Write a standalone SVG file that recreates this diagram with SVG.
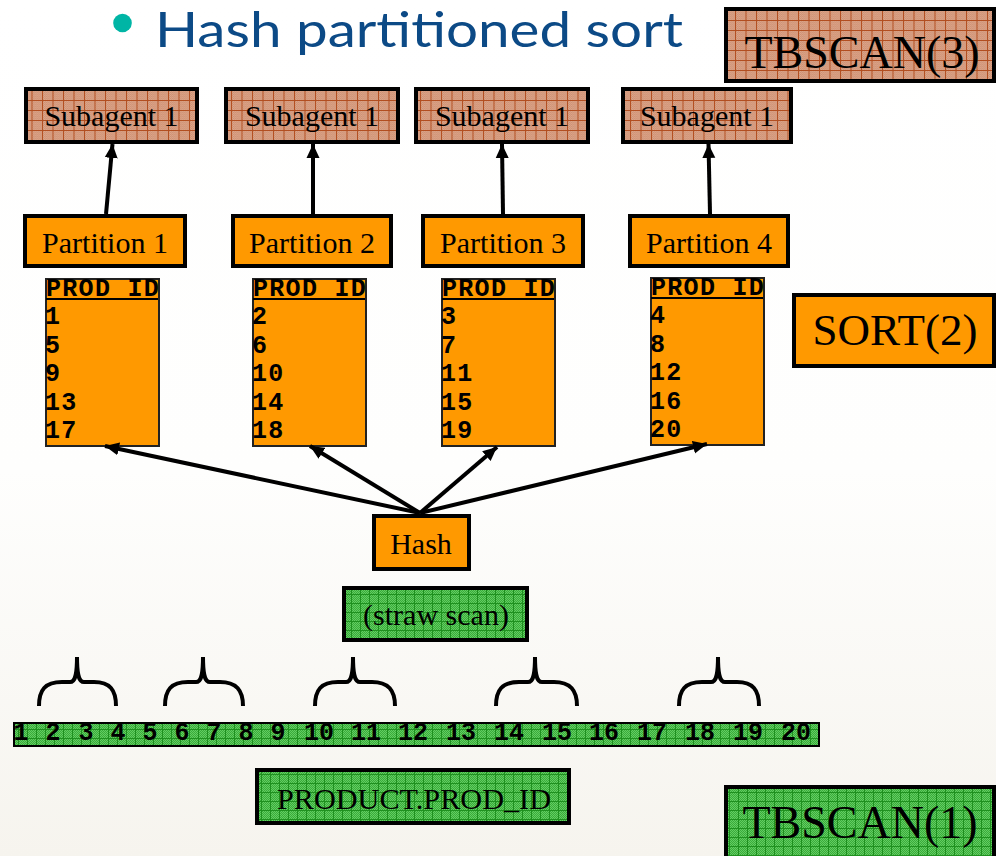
<svg xmlns="http://www.w3.org/2000/svg" width="996" height="856" viewBox="0 0 996 856">
  <defs>
    <linearGradient id="bg" x1="0" y1="0" x2="0" y2="1">
      <stop offset="0" stop-color="#ffffff"/>
      <stop offset="0.55" stop-color="#fefefd"/>
      <stop offset="1" stop-color="#f6f4ee"/>
    </linearGradient>
    <!-- fine texture for the hatched boxes -->
    <pattern id="dotsBrown" width="2" height="2" patternUnits="userSpaceOnUse">
      <rect width="2" height="2" fill="#dea98e"/>
      <rect width="1" height="1" fill="#cc8e70"/>
      <rect x="1" y="1" width="1" height="1" fill="#cc8e70"/>
    </pattern>
    <pattern id="gridBrown" width="10.5" height="10" patternUnits="userSpaceOnUse">
      <rect width="10.5" height="10" fill="url(#dotsBrown)"/>
      <path d="M0 0.5H10.5M0.5 0V10" stroke="#b24e20" stroke-width="1" fill="none"/>
    </pattern>
    <pattern id="dotsGreen" width="2" height="2" patternUnits="userSpaceOnUse">
      <rect width="2" height="2" fill="#62cd62"/>
      <rect width="1" height="1" fill="#3aab3a"/>
      <rect x="1" y="1" width="1" height="1" fill="#3aab3a"/>
    </pattern>
    <pattern id="gridGreen" width="9" height="9" patternUnits="userSpaceOnUse">
      <rect width="9" height="9" fill="url(#dotsGreen)"/>
      <path d="M0 0.5H9M0.5 0V9" stroke="#1f901f" stroke-width="1" fill="none"/>
    </pattern>
    <marker id="arrow" markerUnits="userSpaceOnUse" markerWidth="16" markerHeight="14" refX="14" refY="7" orient="auto">
      <path d="M0 0.5L14 7L0 13.5Z" fill="#000"/>
    </marker>
  </defs>
  <style>
    .serif { font-family: "Liberation Serif", "Times New Roman", serif; fill: #000; }
    .mono { font-family: "Liberation Mono", "Courier New", monospace; font-weight: bold; fill: #000; }
    .brown { fill: url(#gridBrown); stroke: #000; stroke-width: 4; }
    .green { fill: url(#gridGreen); stroke: #000; stroke-width: 4; }
    .orange { fill: #ff9900; stroke: #000; stroke-width: 4; }
    .table { fill: #ff9900; stroke: #222; stroke-width: 2; }
    .edge { stroke: #000; stroke-width: 4; fill: none; marker-end: url(#arrow); }
    .brace { stroke: #000; stroke-width: 4; fill: none; stroke-linecap: butt; }
    .cap { font-size: 30px; text-anchor: middle; }
    .big { font-size: 46px; text-anchor: middle; }
    .cell { font-size: 25px; letter-spacing: 1.3px; }
    .num { font-size: 25px; text-anchor: middle; }
  </style>

  <rect width="996" height="856" fill="url(#bg)"/>

  <!-- heading -->
  <g id="title">
    <circle cx="122.5" cy="23" r="9.3" fill="#00b5a5"/>
    <text x="155" y="47" font-family="Lato, 'Open Sans', sans-serif" font-size="48" fill="#0c4a86" textLength="528" lengthAdjust="spacingAndGlyphs">Hash partitioned sort</text>
  </g>

  <!-- operator labels -->
  <g id="tbscan3">
    <rect class="brown" x="726" y="9" width="268" height="72"/>
    <text class="serif big" x="862" y="68">TBSCAN(3)</text>
  </g>
  <g id="sort2">
    <rect class="orange" x="794" y="295" width="200" height="71"/>
    <text class="serif" x="895" y="345" font-size="45" text-anchor="middle">SORT(2)</text>
  </g>
  <g id="tbscan1">
    <rect class="green" x="726" y="787" width="268" height="71"/>
    <text class="serif big" x="860" y="838">TBSCAN(1)</text>
  </g>

  <!-- subagents -->
  <g id="subagent-1">
    <rect class="brown" x="26" y="89" width="171" height="53"/>
    <text class="serif cap" x="111.5" y="126">Subagent 1</text>
  </g>
  <g id="subagent-2">
    <rect class="brown" x="226" y="89" width="172" height="53"/>
    <text class="serif cap" x="312" y="126">Subagent 1</text>
  </g>
  <g id="subagent-3">
    <rect class="brown" x="416" y="89" width="172" height="53"/>
    <text class="serif cap" x="502" y="126">Subagent 1</text>
  </g>
  <g id="subagent-4">
    <rect class="brown" x="623" y="89" width="168" height="53"/>
    <text class="serif cap" x="707" y="126">Subagent 1</text>
  </g>

  <!-- partitions -->
  <g id="partition-1">
    <rect class="orange" x="25" y="216" width="160" height="50"/>
    <text class="serif cap" x="105" y="253" font-size="31">Partition 1</text>
  </g>
  <g id="partition-2">
    <rect class="orange" x="233" y="216" width="158" height="50"/>
    <text class="serif cap" x="312" y="253" font-size="31">Partition 2</text>
  </g>
  <g id="partition-3">
    <rect class="orange" x="423" y="216" width="160" height="50"/>
    <text class="serif cap" x="503" y="253" font-size="31">Partition 3</text>
  </g>
  <g id="partition-4">
    <rect class="orange" x="630" y="216" width="158" height="50"/>
    <text class="serif cap" x="709" y="253" font-size="31">Partition 4</text>
  </g>

  <!-- sorted PROD_ID lists -->
  <g id="table-1">
    <rect class="table" x="46" y="279" width="113" height="167"/>
    <text class="mono cell" x="46" y="296">PROD ID</text>
    <line x1="46" y1="299" x2="158" y2="299" stroke="#000" stroke-width="2"/>
    <text class="mono cell" x="45" y="324">1</text>
    <text class="mono cell" x="45" y="353">5</text>
    <text class="mono cell" x="45" y="381">9</text>
    <text class="mono cell" x="45" y="410">13</text>
    <text class="mono cell" x="45" y="438">17</text>
  </g>
  <g id="table-2">
    <rect class="table" x="253" y="279" width="113" height="167"/>
    <text class="mono cell" x="253" y="296">PROD ID</text>
    <line x1="253" y1="299" x2="365" y2="299" stroke="#000" stroke-width="2"/>
    <text class="mono cell" x="252" y="324">2</text>
    <text class="mono cell" x="252" y="353">6</text>
    <text class="mono cell" x="252" y="381">10</text>
    <text class="mono cell" x="252" y="410">14</text>
    <text class="mono cell" x="252" y="438">18</text>
  </g>
  <g id="table-3">
    <rect class="table" x="442" y="279" width="113" height="167"/>
    <text class="mono cell" x="442" y="296">PROD ID</text>
    <line x1="442" y1="299" x2="554" y2="299" stroke="#000" stroke-width="2"/>
    <text class="mono cell" x="441" y="324">3</text>
    <text class="mono cell" x="441" y="353">7</text>
    <text class="mono cell" x="441" y="381">11</text>
    <text class="mono cell" x="441" y="410">15</text>
    <text class="mono cell" x="441" y="438">19</text>
  </g>
  <g id="table-4">
    <rect class="table" x="651" y="278" width="113" height="167"/>
    <text class="mono cell" x="651" y="295">PROD ID</text>
    <line x1="651" y1="298" x2="763" y2="298" stroke="#000" stroke-width="2"/>
    <text class="mono cell" x="650" y="323">4</text>
    <text class="mono cell" x="650" y="352">8</text>
    <text class="mono cell" x="650" y="380">12</text>
    <text class="mono cell" x="650" y="409">16</text>
    <text class="mono cell" x="650" y="437">20</text>
  </g>

  <!-- hash and scan -->
  <g id="hash">
    <rect class="orange" x="374" y="516" width="95" height="53"/>
    <text class="serif cap" x="421" y="554" font-size="31">Hash</text>
  </g>
  <g id="straw-scan">
    <rect class="green" x="344" y="588" width="183" height="52"/>
    <text class="serif cap" x="436" y="625" font-size="31">(straw scan)</text>
  </g>

  <!-- sampled ranges -->
  <g id="braces">
    <path class="brace" d="M39 706C39 690 45 682 62 682L70 682C75 682 77 676 77 657C77 676 79 682 84 682L94 682C110 682 116 690 116 706"/>
    <path class="brace" d="M165 706C165 690 171 682 188 682L196 682C201 682 203 676 203 657C203 676 205 682 210 682L220 682C236 682 243 690 243 706"/>
    <path class="brace" d="M315 706C315 690 321 682 338 682L346 682C351 682 353 676 353 657C353 676 355 682 360 682L372 682C388 682 395 690 395 706"/>
    <path class="brace" d="M496 706C496 690 502 682 519 682L528 682C533 682 535 676 535 657C535 676 537 682 542 682L554 682C570 682 577 690 577 706"/>
    <path class="brace" d="M679 706C679 690 685 682 702 682L711 682C716 682 718 676 718 657C718 676 720 682 725 682L737 682C753 682 759 690 759 706"/>
  </g>

  <!-- PRODUCT.PROD_ID values -->
  <g id="value-bar">
    <rect x="14" y="723" width="805" height="23" fill="url(#gridGreen)" stroke="#000" stroke-width="2"/>
    <g class="mono num">
      <text x="21" y="740">1</text>
      <text x="53" y="740">2</text>
      <text x="86" y="740">3</text>
      <text x="118" y="740">4</text>
      <text x="150" y="740">5</text>
      <text x="182" y="740">6</text>
      <text x="214" y="740">7</text>
      <text x="246" y="740">8</text>
      <text x="278" y="740">9</text>
      <text x="319" y="740">10</text>
      <text x="366" y="740">11</text>
      <text x="413" y="740">12</text>
      <text x="461" y="740">13</text>
      <text x="509" y="740">14</text>
      <text x="557" y="740">15</text>
      <text x="604" y="740">16</text>
      <text x="652" y="740">17</text>
      <text x="700" y="740">18</text>
      <text x="748" y="740">19</text>
      <text x="796" y="740">20</text>
    </g>
  </g>
  <g id="product-column">
    <rect class="green" x="257" y="770" width="312" height="53" stroke-width="3"/>
    <text class="serif cap" x="414" y="809" font-size="32" textLength="274" lengthAdjust="spacingAndGlyphs">PRODUCT.PROD_ID</text>
  </g>

  <!-- connectors -->
  <g id="connectors">
    <line class="edge" x1="106" y1="214" x2="112.5" y2="144"/>
    <line class="edge" x1="313" y1="214" x2="313" y2="144"/>
    <line class="edge" x1="503" y1="214" x2="502" y2="144"/>
    <line class="edge" x1="710" y1="214" x2="708.5" y2="144"/>
    <line class="edge" x1="420" y1="513" x2="105" y2="446"/>
    <line class="edge" x1="420" y1="513" x2="310" y2="446"/>
    <line class="edge" x1="420" y1="513" x2="497" y2="447"/>
    <line class="edge" x1="420" y1="513" x2="707" y2="444"/>
  </g>
</svg>
